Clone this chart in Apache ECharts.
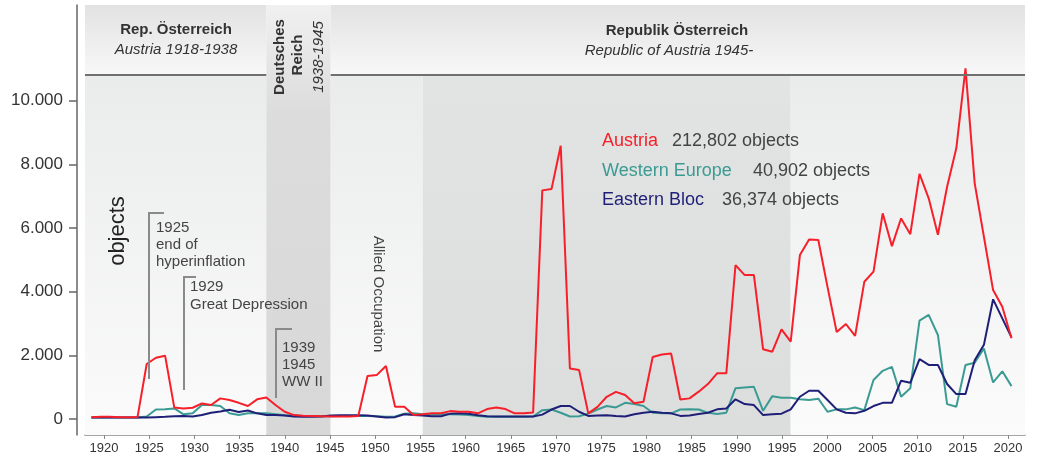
<!DOCTYPE html>
<html>
<head>
<meta charset="utf-8">
<script src="https://cdn.jsdelivr.net/npm/echarts@6/dist/echarts.min.js"></script>
<style>
html, body { margin: 0; padding: 0; background: #fff; }
#chart { width: 1042px; height: 464px; }
</style>
</head>
<body>
<div id="chart"></div>
<script>
// yearly object counts, 1919 - 2019
var firstYear = 1919;
var lastYear = 2019;

var austria = [
    60, 70, 70, 60, 60, 60, 1730, 1925, 1990, 360,
    335, 355, 490, 440, 650, 600, 510, 410, 620, 680,
    440, 230, 125, 105, 100, 90, 80, 80, 80, 95,
    1350, 1380, 1665, 385, 385, 125, 150, 180, 180, 250,
    230, 230, 180, 315, 365, 315, 180, 180, 210, 7180,
    7220, 8580, 1590, 1540, 180, 385, 700, 855, 755, 500,
    545, 1950, 2030, 2060, 615, 650, 860, 1100, 1435, 1435,
    4835, 4520, 4520, 2190, 2115, 2815, 2430, 5150, 5640, 5620,
    4150, 2730, 2985, 2610, 4310, 4630, 6460, 5430, 6300, 5805,
    7700, 6930, 5785, 7295, 8500, 11010, 7400, 5725, 4050, 3525,
    2535
];
var westernEurope = [
    50, 50, 50, 50, 50, 50, 80, 300, 305, 335,
    150, 180, 440, 440, 410, 180, 125, 180, 180, 180,
    150, 120, 110, 100, 100, 90, 90, 95, 95, 95,
    100, 90, 70, 80, 170, 180, 150, 150, 150, 150,
    140, 130, 100, 70, 70, 70, 70, 70, 80, 280,
    300, 200, 80, 90, 170, 300, 410, 365, 510, 470,
    410, 200, 180, 180, 300, 305, 300, 200, 160, 200,
    970, 995, 1015, 260, 720, 670, 670, 620, 600, 640,
    230, 305, 305, 365, 280, 1225, 1515, 1640, 700, 965,
    3090, 3270, 2640, 470, 385, 1700, 1770, 2215, 1150, 1500,
    1035
];
var easternBloc = [
    50, 50, 50, 50, 50, 50, 50, 60, 70, 90,
    100, 80, 130, 200, 240, 290, 220, 270, 180, 130,
    130, 110, 80, 70, 70, 80, 110, 120, 120, 120,
    110, 80, 50, 60, 150, 130, 110, 90, 90, 170,
    180, 170, 120, 90, 80, 80, 80, 80, 80, 140,
    300, 410, 410, 230, 100, 110, 120, 95, 80, 150,
    200, 230, 200, 180, 100, 110, 160, 200, 305, 330,
    620, 470, 440, 125, 150, 170, 305, 700, 890, 890,
    600, 305, 200, 180, 260, 410, 510, 510, 1205, 1140,
    1880, 1700, 1700, 1100, 785, 785, 1850, 2330, 3760, 3160,
    2565
];

var yTicks = [0, 2000, 4000, 6000, 8000, 10000];
var xTicks = [1920, 1925, 1930, 1935, 1940, 1945, 1950, 1955, 1960, 1965, 1970,
    1975, 1980, 1985, 1990, 1995, 2000, 2005, 2010, 2015, 2020];

var legendNames = ['Austria', 'Western Europe', 'Eastern Bloc'];
var legendTotals = ['212,802 objects', '40,902 objects', '36,374 objects'];
var colors = ['#f7202a', '#3b9b93', '#1f1f78'];

// era boundaries (years)
var eraStart = 1918.293, eraReich = 1938, eraAllied = 1945, eraGray = 1955, eraGrayEnd = 1995, eraEnd = 2020.467;
var headerLevel = 10800;
var yMin = -500, yMax = 13000;

var font = '"Liberation Sans", Arial, sans-serif';

function pairs(values) {
    var out = [];
    for (var i = 0; i < values.length; i++) {
        out.push([firstYear + i, values[i]]);
    }
    return out;
}

function vgrad(top, bottom) {
    return new echarts.graphic.LinearGradient(0, 0, 0, 1, [
        {offset: 0, color: top}, {offset: 1, color: bottom}
    ]);
}

function area(x1, x2, y1, y2, fill) {
    return [{xAxis: x1, yAxis: y2, itemStyle: {color: fill}}, {xAxis: x2, yAxis: y1}];
}

function txt(text, x, y, style, extra) {
    var el = {
        type: 'text', x: x, y: y, z: 100,
        style: {
            text: text, font: style.font, fill: style.fill || '#333',
            align: style.align || 'center', verticalAlign: 'middle'
        }
    };
    if (extra) el.rotation = extra;
    return el;
}

function bracket(points) {
    return {
        type: 'polyline', z: 100,
        shape: {points: points},
        style: {stroke: '#8a8a8a', lineWidth: 2, fill: null}
    };
}

var dom = document.getElementById('chart');
var myChart = echarts.init(dom, null, {renderer: 'canvas'});

var bodyGrad = vgrad('#eaebeb', '#fbfbfb');
var headGrad = vgrad('#e2e2e2', '#f8f8f8');

var graphics = [
    txt('Rep. Österreich', 176, 30, {font: 'bold 15px ' + font}),
    txt('Austria 1918-1938', 176, 50, {font: 'italic 15px ' + font}),
    txt('Republik Österreich', 677, 31, {font: 'bold 15px ' + font}),
    txt('Republic of Austria 1945-', 669, 51, {font: 'italic 15px ' + font}),
    txt('Deutsches', 280, 57, {font: 'bold 15px ' + font}, Math.PI / 2),
    txt('Reich', 298, 55, {font: 'bold 15px ' + font}, Math.PI / 2),
    txt('1938-1945', 319, 57, {font: 'italic 15px ' + font}, Math.PI / 2),
    txt('objects', 118, 231, {font: '22px ' + font, fill: '#222'}, Math.PI / 2),
    txt('Allied Occupation', 378, 294, {font: '15px ' + font, fill: '#444'}, -Math.PI / 2),

    bracket([[164, 213], [149, 213], [149, 379]]),
    txt('1925', 156, 228, {font: '15px ' + font, fill: '#444', align: 'left'}),
    txt('end of', 156, 245, {font: '15px ' + font, fill: '#444', align: 'left'}),
    txt('hyperinflation', 156, 262, {font: '15px ' + font, fill: '#444', align: 'left'}),

    bracket([[196, 277], [184, 277], [184, 390]]),
    txt('1929', 190, 287, {font: '15px ' + font, fill: '#444', align: 'left'}),
    txt('Great Depression', 190, 305, {font: '15px ' + font, fill: '#444', align: 'left'}),

    bracket([[292, 329], [276, 329], [276, 398]]),
    txt('1939', 282, 348, {font: '15px ' + font, fill: '#444', align: 'left'}),
    txt('1945', 282, 365, {font: '15px ' + font, fill: '#444', align: 'left'}),
    txt('WW II', 282, 382, {font: '15px ' + font, fill: '#444', align: 'left'})
];

var legendX = [602, 602, 602];
var totalX = [672, 753, 722];
var legendY = [141, 171, 200];
for (var i = 0; i < legendNames.length; i++) {
    graphics.push(txt(legendNames[i], legendX[i], legendY[i], {font: '18px ' + font, fill: colors[i], align: 'left'}));
    graphics.push(txt(legendTotals[i], totalX[i], legendY[i], {font: '18px ' + font, fill: '#444', align: 'left'}));
}

var option = {
    animation: false,
    backgroundColor: '#ffffff',
    grid: {left: 85, right: 17, top: 5, bottom: 29, containLabel: false},
    xAxis: [
        {
            type: 'value', min: eraStart, max: eraEnd, show: false
        },
        {
            type: 'value', min: 1917.898, max: 2021.88, position: 'bottom',
            axisLine: {show: true, lineStyle: {color: '#888', width: 1.5}},
            axisTick: {show: true, length: 4, customValues: xTicks, lineStyle: {color: '#888'}},
            axisLabel: {
                customValues: xTicks, fontSize: 13, color: '#333', margin: 7, fontFamily: font,
                formatter: function (v) {
                    return String(Math.round(v));
                }
            },
            splitLine: {show: false}
        }
    ],
    yAxis: {
        type: 'value', min: yMin, max: yMax, offset: 8,
        axisLine: {show: true, lineStyle: {color: '#666', width: 1.5}},
        axisTick: {show: true, length: 8, customValues: yTicks, lineStyle: {color: '#666', width: 1.5}},
        axisLabel: {
            customValues: yTicks, fontSize: 17, color: '#333', margin: 14, fontFamily: font,
            formatter: function (v) {
                return v === 0 ? '0' : (v / 1000).toFixed(3);
            }
        },
        splitLine: {show: false}
    },
    series: [
        {
            name: 'eras', type: 'line', xAxisIndex: 0, data: [], z: 1, silent: true,
            markArea: {
                silent: true,
                label: {show: false},
                data: [
                    area(eraStart, eraReich, headerLevel, yMax, headGrad),
                    area(eraStart, eraReich, yMin, headerLevel, bodyGrad),
                    area(eraReich, eraAllied, yMin, yMax, new echarts.graphic.LinearGradient(0, 0, 0, 1, [
                        {offset: 0, color: '#f0f0f0'}, {offset: 0.25, color: '#dcdcdc'}, {offset: 1, color: '#d8d8d8'}
                    ])),
                    area(eraAllied, eraEnd, headerLevel, yMax, headGrad),
                    area(eraAllied, eraGray, yMin, headerLevel, bodyGrad),
                    area(eraGray, eraGrayEnd, yMin, headerLevel, vgrad('#e2e3e3', '#dcdddd')),
                    area(eraGrayEnd, eraEnd, yMin, headerLevel, bodyGrad)
                ]
            },
            markLine: {
                silent: true, symbol: 'none',
                label: {show: false},
                lineStyle: {color: '#707070', width: 2, type: 'solid'},
                data: [
                    [{coord: [eraStart, headerLevel]}, {coord: [eraReich, headerLevel]}],
                    [{coord: [eraAllied, headerLevel]}, {coord: [eraEnd, headerLevel]}]
                ]
            }
        },
        {
            name: legendNames[1], type: 'line', xAxisIndex: 0, data: pairs(westernEurope),
            showSymbol: false, z: 2, lineStyle: {color: colors[1], width: 2}, itemStyle: {color: colors[1]}
        },
        {
            name: legendNames[2], type: 'line', xAxisIndex: 0, data: pairs(easternBloc),
            showSymbol: false, z: 3, lineStyle: {color: colors[2], width: 2}, itemStyle: {color: colors[2]}
        },
        {
            name: legendNames[0], type: 'line', xAxisIndex: 0, data: pairs(austria),
            showSymbol: false, z: 4, lineStyle: {color: colors[0], width: 2}, itemStyle: {color: colors[0]}
        }
    ],
    graphic: graphics
};

if (option && typeof option === "object") {
    myChart.setOption(option, true);
}
</script>
</body>
</html>
